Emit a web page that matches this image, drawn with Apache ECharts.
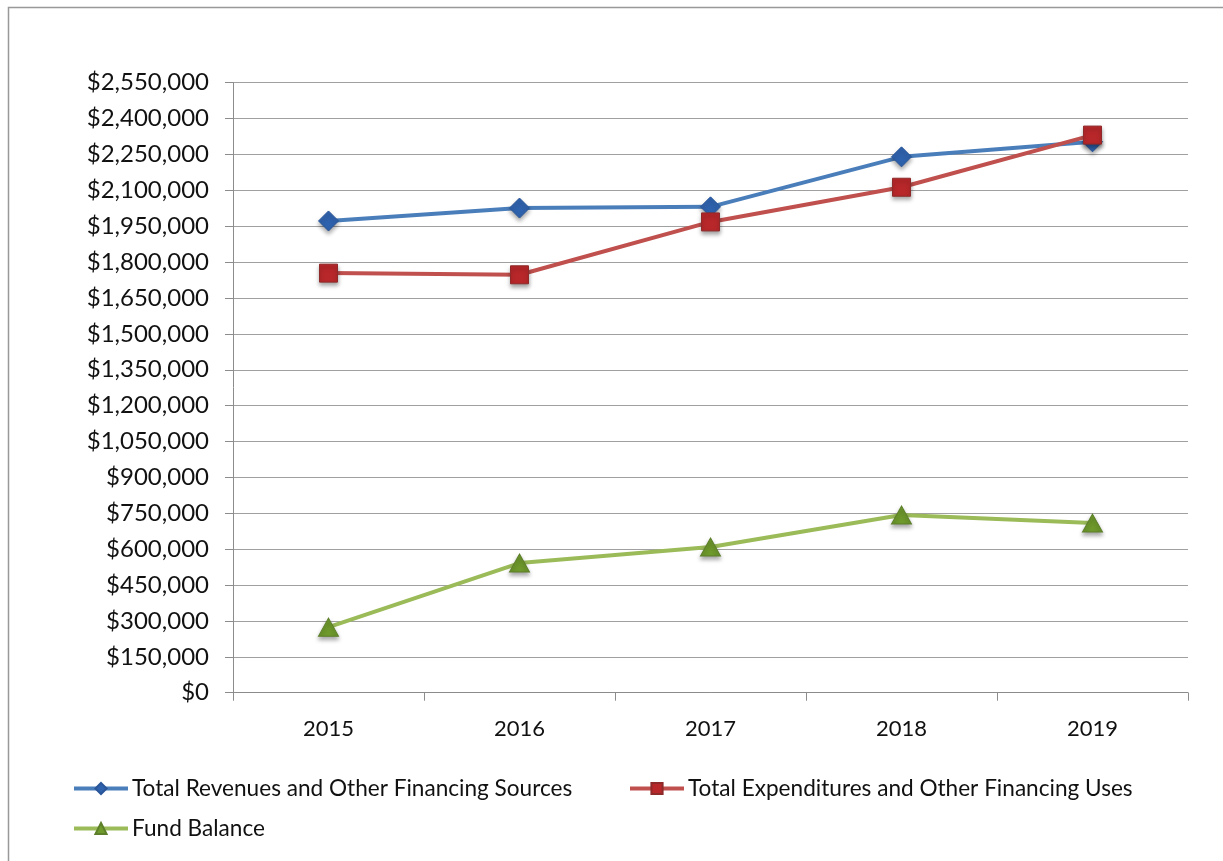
<!DOCTYPE html>
<html>
<head>
<meta charset="utf-8">
<script src="https://cdn.jsdelivr.net/npm/echarts@6/dist/echarts.min.js"></script>
<style>html,body{margin:0;padding:0;background:#fff;}#c{width:1223px;height:861px;}</style>
</head>
<body>
<div id="c"></div>
<script>
const years = ['2015', '2016', '2017', '2018', '2019'];
const revenues = [1972000, 2026000, 2031000, 2240000, 2303000];
const expenditures = [1754000, 1747000, 1968000, 2113000, 2331000];
const fundBalance = [274000, 542000, 609000, 743000, 709000];
const seriesNames = ['Total Revenues and Other Financing Sources', 'Total Expenditures and Other Financing Uses', 'Fund Balance'];

const font = 'Lato, "Open Sans", sans-serif';
const chart = echarts.init(document.getElementById('c'), null, {renderer: 'canvas'});
const shadow = {shadowBlur: 4, shadowColor: 'rgba(0,0,0,0.35)', shadowOffsetY: 3};
function fmt(v) { return '$' + v.toLocaleString('en-US'); }
const legendCommon = {itemWidth: 54, itemHeight: 14, itemGap: 4, padding: 0,
  lineStyle: {width: 4},
  textStyle: {fontFamily: font, fontSize: 22.6, color: '#111', padding: [0, 0, 0, -1]}};
chart.setOption({
  animation: false,
  backgroundColor: '#fff',
  graphic: [{type: 'rect', shape: {x: 8.5, y: 7.5, width: 1400, height: 1000}, style: {fill: 'none', stroke: '#999', lineWidth: 1.5}, silent: true, z: -1}],
  grid: {left: 233, right: 35, top: 82.7, bottom: 168.3, containLabel: false},
  legend: [
    Object.assign({data: [seriesNames[0]], left: 72, top: 777}, legendCommon),
    Object.assign({data: [seriesNames[1]], left: 628, top: 777}, legendCommon),
    Object.assign({data: [seriesNames[2]], left: 72, top: 817}, legendCommon)
  ],
  xAxis: {
    type: 'category', data: years, boundaryGap: true,
    axisLine: {lineStyle: {color: '#8c8c8c', width: 1}},
    axisTick: {show: true, length: 8, lineStyle: {color: '#8c8c8c'}},
    axisLabel: {fontFamily: font, fontSize: 22, color: '#111', margin: 25},
    splitLine: {show: false}
  },
  yAxis: {
    type: 'value', min: 0, max: 2550000, interval: 150000,
    axisLine: {show: true, lineStyle: {color: '#8c8c8c', width: 1}},
    axisTick: {show: true, length: 8, lineStyle: {color: '#8c8c8c'}},
    axisLabel: {fontFamily: font, fontSize: 24, color: '#111', margin: 24, formatter: fmt},
    splitLine: {show: true, lineStyle: {color: '#a0a0a0', width: 1.2}}
  },
  series: [
    {name: seriesNames[0], type: 'line', data: revenues, symbol: 'diamond', symbolSize: [20, 20],
     lineStyle: {color: '#4a7ebb', width: 4}, itemStyle: Object.assign({color: '#2f62ad', borderColor: '#2a5699', borderWidth: 1}, shadow), z: 3},
    {name: seriesNames[1], type: 'line', data: expenditures, symbol: 'rect', symbolSize: 18,
     lineStyle: {color: '#c0504d', width: 4}, itemStyle: Object.assign({color: '#b8272a', borderColor: '#8f2a2a', borderWidth: 1}, shadow), z: 4},
    {name: seriesNames[2], type: 'line', data: fundBalance, symbol: 'triangle', symbolSize: [20, 18],
     lineStyle: {color: '#9bbb59', width: 4}, itemStyle: Object.assign({color: '#6f9a2c', borderColor: '#5d7f2a', borderWidth: 1}, shadow), z: 3}
  ]
});
</script>
</body>
</html>
